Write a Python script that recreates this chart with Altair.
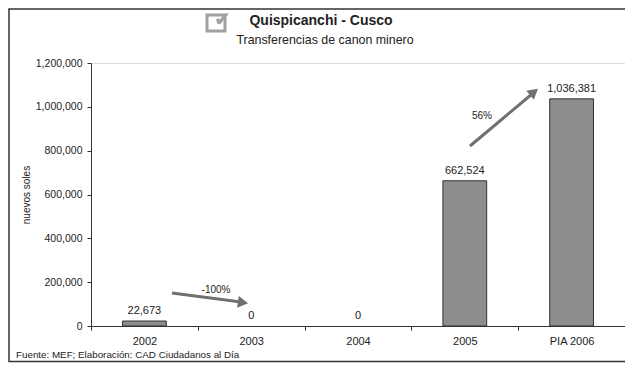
import altair as alt
import pandas as pd

categories = ["2002", "2003", "2004", "2005", "PIA 2006"]
values = [22673, 0, 0, 662524, 1036381]
labels = ["22,673", "0", "0", "662,524", "1,036,381"]
y_ticks = [0, 200000, 400000, 600000, 800000, 1000000, 1200000]

df = pd.DataFrame({"cat": categories, "val": values, "lab": labels})

W, H = 534, 263
FONT = "Liberation Sans"
DARK = "#222222"

x_enc = alt.X("cat:N", sort=categories, title=None,
              scale=alt.Scale(paddingInner=0, paddingOuter=0),
              axis=alt.Axis(labelAngle=0, tickBand="extent", labelFontSize=11,
                            labelColor=DARK, labelFont=FONT, tickSize=4,
                            labelPadding=5, domainColor="#333", tickColor="#333",
                            grid=False))
y_enc = alt.Y("val:Q", title="nuevos soles",
              scale=alt.Scale(domain=[0, 1200000], nice=False),
              axis=alt.Axis(values=y_ticks, labelExpr="format(datum.value, ',')",
                            labelFontSize=10.5,
                            labelColor=DARK, labelFont=FONT, tickSize=4,
                            labelPadding=5, domainColor="#333", tickColor="#333",
                            grid=False, titleFont=FONT, titleFontSize=10,
                            titleFontWeight="normal", titleColor=DARK,
                            titlePadding=4))

base = alt.Chart(df)
bars = base.mark_bar(width=alt.RelativeBandSize(0.41), color="#8d8d90",
                     stroke="#333333", strokeWidth=1).encode(
    x=x_enc, y=y_enc).transform_filter("datum.val > 0")
texts = base.mark_text(baseline="bottom", dy=-5, fontSize=11, font=FONT,
                       color=DARK).encode(x=x_enc, y=y_enc, text="lab:N")

one = pd.DataFrame({"k": [0]})
ARROW = "#707070"

def rule(x, y, x2, y2, color=ARROW, w=3):
    return alt.Chart(one).mark_rule(color=color, strokeWidth=w).encode(
        x=alt.value(x), y=alt.value(y), x2=alt.value(x2), y2=alt.value(y2))

def head(x, y, angle):
    return alt.Chart(one).mark_point(shape="triangle-right", filled=True,
                                     color=ARROW, size=140, opacity=1,
                                     angle=angle).encode(
        x=alt.value(x), y=alt.value(y))

def txt(s, x, y, size=11, weight="normal", color=DARK, align="center"):
    return alt.Chart(one).mark_text(text=s, fontSize=size, fontWeight=weight,
                                    font=FONT, color=color, align=align,
                                    baseline="middle").encode(
        x=alt.value(x), y=alt.value(y))

arrow1 = rule(81, 230, 150, 239) + head(152, 239.5, 8)
arrow2 = rule(379, 83, 441, 31) + head(443, 29, 320)
lab1 = txt("-100%", 125, 227, size=10)
lab2 = txt("56%", 391, 53, size=10)

title = txt("Quispicanchi - Cusco", 230, -42, size=14, weight="bold")
subtitle = txt("Transferencias de canon minero", 234, -23, size=12.4)
footer = txt("Fuente: MEF; Elaboración: CAD Ciudadanos al Día", -75, 292,
             size=9.8, align="left")

icon_box = alt.Chart(one).mark_rect(fill="white", stroke="#a0a0a0",
                                    strokeWidth=3).encode(
    x=alt.value(116), x2=alt.value(134), y=alt.value(-48), y2=alt.value(-32))
icon_check = txt("✔", 131, -43, size=20, color="#a0a0a0")

border = alt.Chart(one).mark_rect(fill=None, stroke="#333333",
                                  strokeWidth=1.5).encode(
    x=alt.value(-82), x2=alt.value(570), y=alt.value(-54), y2=alt.value(298.5))

chart = alt.layer(border, bars, texts, arrow1, arrow2, lab1, lab2, title,
                  subtitle, icon_box, icon_check, footer).properties(
    width=W, height=H,
    autosize=alt.AutoSizeParams(type="none"),
    padding={"left": 83, "top": 55, "right": 0, "bottom": 37},
).configure_view(stroke=None).configure(background="white")

chart.save("out.html", embed_options={"renderer": "svg", "actions": False})
